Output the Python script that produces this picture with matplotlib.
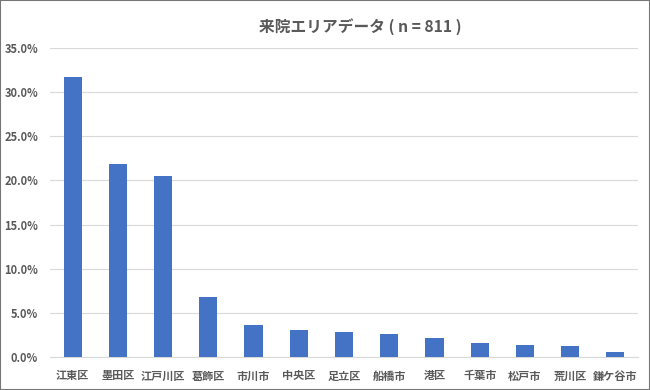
import matplotlib.pyplot as plt
import numpy as np
from matplotlib.ticker import PercentFormatter

plt.rcParams['font.family'] = ['Noto Sans CJK JP', 'DejaVu Sans']

areas = ['江東区', '墨田区', '江戸川区', '葛飾区', '市川市', '中央区', '足立区',
         '船橋市', '港区', '千葉市', '松戸市', '荒川区', '鎌ケ谷市']
shares = [31.7, 21.9, 20.5, 6.8, 3.6, 3.1, 2.8, 2.6, 2.1, 1.6, 1.4, 1.2, 0.6]
title = '来院エリアデータ ( n = 811 )'

textColor = '#595959'

fig = plt.figure(figsize=(6.5, 3.9), dpi=100)
ax = fig.add_axes([50/650, 1 - 357/390, 588/650, 309/390])

pos = np.arange(len(areas))
ax.bar(pos, shares, width=0.4, color='#4472C4', zorder=3)

ax.set_xlim(-0.5, len(areas) - 0.5)
ax.set_ylim(0, 35)
ax.set_yticks(np.arange(0, 35.1, 5))
ax.yaxis.set_major_formatter(PercentFormatter(decimals=1))
ax.set_xticks(pos)
ax.set_xticklabels(areas)
ax.tick_params(axis='both', length=0, colors=textColor, labelsize=8)
ax.tick_params(axis='x', pad=9)
ax.tick_params(axis='y', pad=8.5)
for lbl in ax.get_xticklabels() + ax.get_yticklabels():
   lbl.set_fontweight('bold')
ax.grid(axis='y', color='#D9D9D9', linewidth=0.8, zorder=0)

for side in ['top', 'right', 'left']:
   ax.spines[side].set_visible(False)
ax.spines['bottom'].set_color('#D9D9D9')

fig.text(360/650, 1 - 27/390, title, ha='center', va='center',
         fontsize=11.3, fontweight='bold', color=textColor)

# outer frame
fig.patches.append(plt.Rectangle((0, 0), 1, 1, transform=fig.transFigure,
                                 fill=False, edgecolor='#767676', linewidth=1.5))

fig.savefig('out.png', dpi=100)
